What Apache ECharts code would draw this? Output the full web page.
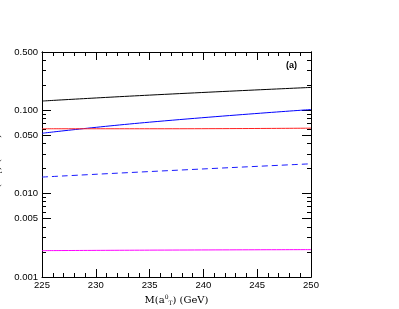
<!DOCTYPE html>
<html>
<head>
<meta charset="utf-8">
<script src="https://cdn.jsdelivr.net/npm/echarts@6/dist/echarts.min.js"></script>
<style>html,body{margin:0;padding:0;background:#fff}#c{width:399px;height:309px}</style>
</head>
<body>
<div id="c"></div>
<script>
// ---- data ----
var mass = [225, 235, 250];
var blackSolid = [0.129, 0.152, 0.188];
var blueSolid = [0.053, 0.072, 0.102];
var redSolid = [0.060, 0.060, 0.061];
var blueDashed = [0.0158, 0.0184, 0.0228];
var magentaSolid = [0.00207, 0.00210, 0.00213];

var yLabelValues = [0.001, 0.005, 0.01, 0.05, 0.1, 0.4999];
var yMinorValues = [0.002, 0.003, 0.004, 0.006, 0.007, 0.008, 0.009,
                    0.02, 0.03, 0.04, 0.06, 0.07, 0.08, 0.09,
                    0.2, 0.3, 0.4];

function pairs(xs, ys) { return xs.map(function (x, i) { return [x, ys[i]]; }); }

var chart = echarts.init(document.getElementById('c'), null, {renderer: 'canvas'});
var lineAx = {show: true, lineStyle: {color: '#000', width: 1}};
var sans = 'Liberation Sans';
var serif = 'DejaVu Serif';

function xAx(pos, labels) {
  return {
    type: 'value', position: pos, min: 225, max: 250, interval: 5,
    axisLine: lineAx,
    axisTick: {show: true, inside: true, length: 8, lineStyle: {color: '#000'}},
    minorTick: {show: true, splitNumber: 5, length: 4, lineStyle: {color: '#000'}},
    axisLabel: {show: labels, color: '#000', fontSize: 9.5, fontFamily: sans, margin: 3},
    splitLine: {show: false}
  };
}
function yAx(pos, major, labels) {
  return {
    type: 'log', logBase: 10, position: pos, min: 0.001, max: 0.5,
    axisLine: lineAx,
    axisTick: {show: true, inside: true, length: major ? 9 : 4,
               customValues: major ? yLabelValues : yMinorValues,
               lineStyle: {color: '#000'}},
    axisLabel: {show: labels, color: '#000', fontSize: 9.5, fontFamily: sans, margin: 4,
                customValues: yLabelValues,
                formatter: function (v) { return (+v).toFixed(3); }},
    splitLine: {show: false}, minorTick: {show: false}
  };
}

var richName = {
  a: {fontFamily: serif, fontSize: 10, color: '#000'},
  s: {fontFamily: serif, fontSize: 6, color: '#000', verticalAlign: 'top', padding: [0, 0, 6, 0]},
  b: {fontFamily: serif, fontSize: 6, color: '#000', verticalAlign: 'bottom', padding: [4, 0, 0, 0]}
};

var xNameAx = xAx('bottom', true);
xNameAx.name = '{a|M(a}{s|0}{b|T}{a|) (GeV)}';
xNameAx.nameLocation = 'middle';
xNameAx.nameGap = 16;
xNameAx.nameTextStyle = {rich: richName};

var yNameAx = yAx('left', true, true);
yNameAx.name = '{a|Γ(a}{s|0}{b|T}{a|) (GeV)}';
yNameAx.nameLocation = 'middle';
yNameAx.nameGap = 38;
yNameAx.nameRotate = 90;
yNameAx.nameTextStyle = {rich: richName};

function ln(name, data, color, type) {
  return {name: name, type: 'line', data: pairs(mass, data), showSymbol: false, smooth: true,
          xAxisIndex: 0, yAxisIndex: 0, animation: false,
          lineStyle: {color: color, width: 1, type: type || 'solid'}};
}

chart.setOption({
  animation: false,
  grid: {left: 42, right: 88, top: 52, bottom: 32, containLabel: false, outerBoundsMode: 'none'},
  xAxis: [xNameAx, xAx('top', false)],
  yAxis: [yNameAx, yAx('left', false, false), yAx('right', true, false), yAx('right', false, false)],
  graphic: [{type: 'text', left: 286, top: 61,
             style: {text: '(a)', fontSize: 9, fontFamily: sans, fill: '#000', fontWeight: 'bold'}}],
  series: [
    ln('black', blackSolid, '#000000'),
    ln('blue', blueSolid, '#0000ff'),
    ln('red', redSolid, '#ff2020'),
    ln('blueDashed', blueDashed, '#1a1aff', [6, 4]),
    ln('magenta', magentaSolid, '#ff00ff')
  ]
});
</script>
</body>
</html>
